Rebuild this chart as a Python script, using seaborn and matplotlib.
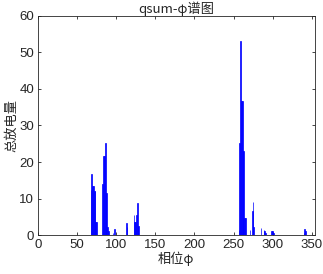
import matplotlib
matplotlib.use("Agg")
import matplotlib.pyplot as plt
import seaborn as sns
import pandas as pd

phase = [68, 69, 70, 71, 72, 73, 74, 75,
         83, 84, 85, 86, 87, 88, 89, 90,
         96, 98, 113, 114,
         123, 124, 125, 126, 127, 128, 129,
         257, 258, 259, 260, 261, 262, 263, 264, 265,
         271, 274, 275, 276, 285, 289, 290, 291,
         299, 300, 301, 340, 341, 342]
qsum = [12.4, 16.7, 13.5, 13.5, 12.1, 12.1, 3.7, 3.7,
        14.1, 21.6, 21.6, 25.2, 11.4, 11.4, 2.3, 1.2,
        0.5, 1.6, 3.3, 2.1,
        5.5, 3.5, 3.5, 5.5, 8.8, 2.5, 2.5,
        1.4, 25.2, 53.2, 36.8, 36.8, 22.9, 22.9, 4.8, 4.8,
        1.4, 6.5, 9.0, 2.1, 1.9, 1.5, 1.2, 0.7,
        1.0, 1.1, 0.5, 0.5, 1.6, 1.1]

title = "qsum-φ谱图"
xlabel = "相位φ"
ylabel = "总放电量"
xticks = [0, 50, 100, 150, 200, 250, 300, 350]
yticks = [0, 10, 20, 30, 40, 50, 60]

df = pd.DataFrame({"phase": phase, "qsum": qsum})

sns.set_style("white")
plt.rcParams['font.family'] = ['Liberation Sans', 'Noto Sans CJK SC', 'DejaVu Sans']

fig = plt.figure(figsize=(3.23, 2.74), dpi=100)
ax = fig.add_axes([0.117, 0.142, 0.858, 0.8])

sns.barplot(data=df, x="phase", y="qsum", native_scale=True, width=1.0,
            color="#0000ff", saturation=1, edgecolor="#0000ff", linewidth=0.5,
            errorbar=None, ax=ax)

ax.set_xlim(0, 354)
ax.set_ylim(0, 60)
ax.set_xticks(xticks)
ax.set_yticks(yticks)
ax.set_xticklabels([str(t) for t in xticks])
ax.set_yticklabels([str(t) for t in yticks])

for s in ax.spines.values():
    s.set_color("#262626")
    s.set_linewidth(0.6)
ax.tick_params(direction="in", length=2.5, width=0.6, color="#262626",
               labelsize=9.5, top=True, right=True, bottom=True, left=True,
               labelcolor="#262626", pad=2.5)

cjk = ['Noto Sans CJK SC', 'DejaVu Sans']
ax.set_title(title, fontsize=9.5, family=cjk, pad=2, color="#262626")
ax.set_xlabel(xlabel, fontsize=9.5, family=cjk, labelpad=1, color="#262626")
ax.set_ylabel(ylabel, fontsize=9.5, family=cjk, labelpad=0.5, color="#262626")

fig.savefig("out.png", dpi=100)
